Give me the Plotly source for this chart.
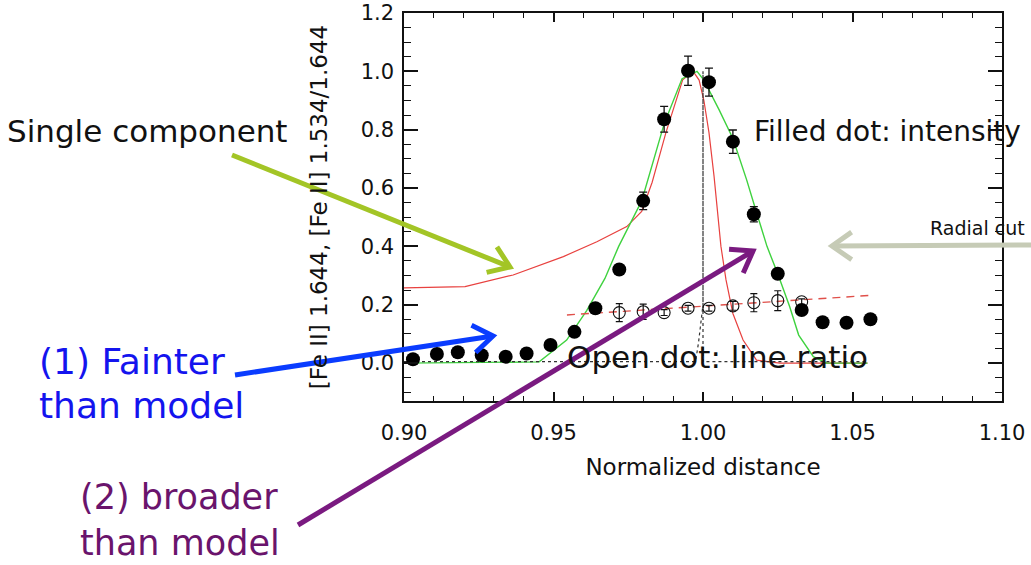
import math
import plotly.graph_objects as go

# ---------------- data ----------------
dist_filled = [0.903, 0.911, 0.918, 0.926, 0.934, 0.941, 0.949, 0.957, 0.964, 0.972, 0.980,
               0.987, 0.995, 1.002, 1.010, 1.017, 1.025, 1.033, 1.040, 1.048, 1.056]
intensity = [0.013, 0.031, 0.037, 0.027, 0.022, 0.033, 0.062, 0.107, 0.188, 0.321, 0.556,
             0.836, 1.002, 0.963, 0.759, 0.510, 0.306, 0.182, 0.140, 0.138, 0.150]
intensity_err = [0.0, 0.0, 0.0, 0.0, 0.0, 0.0, 0.0, 0.0, 0.01, 0.0, 0.03,
                 0.044, 0.05, 0.048, 0.04, 0.026, 0.0, 0.0, 0.0, 0.0, 0.0]

dist_open = [0.972, 0.980, 0.987, 0.995, 1.002, 1.010, 1.017, 1.025, 1.033]
ratio = [0.173, 0.176, 0.173, 0.188, 0.188, 0.196, 0.207, 0.214, 0.210]
ratio_err = [0.031, 0.026, 0.010, 0.010, 0.010, 0.015, 0.031, 0.034, 0.010]

ratio_fit_x = [0.9545, 1.056]
ratio_fit_y = [0.165, 0.232]

single_x = [0.900, 0.9204, 0.9365, 0.9533, 0.9645, 0.9745, 0.9795, 0.983, 0.9876, 0.9932,
            0.9967, 0.9987, 1.0003, 1.002, 1.0037, 1.006, 1.0077, 1.010, 1.0134, 1.0179,
            1.0257, 1.055]
single_y = [0.258, 0.262, 0.302, 0.365, 0.416, 0.468, 0.52, 0.62, 0.79, 0.971,
            1.0, 0.97, 0.90, 0.79, 0.64, 0.40, 0.285, 0.17, 0.079, 0.010,
            0.0, 0.0]

two_x = [0.900, 0.9452, 0.9544, 0.9611, 0.9672, 0.9718, 0.9795, 0.987, 0.993, 0.998,
         1.0003, 1.0054, 1.010, 1.0146, 1.0175, 1.0214, 1.025, 1.029, 1.032, 1.0369,
         1.0414, 1.055]
two_y = [0.0, 0.004, 0.079, 0.18, 0.29, 0.40, 0.556, 0.82, 0.975, 1.0,
         0.97, 0.868, 0.77, 0.628, 0.53, 0.40, 0.306, 0.193, 0.096, 0.022,
         0.0, 0.0]

psf_x = [0.900, 0.9975, 0.9985, 1.0, 1.0, 1.0, 1.055]
psf_y = [0.005, 0.005, 0.07, 0.2, 1.0, 0.005, 0.005]

x_ticks = [0.90, 0.95, 1.00, 1.05, 1.10]
y_ticks = [0.0, 0.2, 0.4, 0.6, 0.8, 1.0, 1.2]

# ---------------- layout geometry ----------------
W, H = 1031, 565
ML, MR, MT, MB = 404, 29, 13, 164
PW, PH = W - ML - MR, H - MT - MB


def px(xp):
    return (xp - ML) / PW


def py(yp):
    return (H - MB - yp) / PH


fig = go.Figure()

fig.add_trace(go.Scatter(x=single_x, y=single_y, mode="lines",
                         line=dict(color="#e8413f", width=1.2), showlegend=False))
fig.add_trace(go.Scatter(x=two_x, y=two_y, mode="lines",
                         line=dict(color="#3fd23f", width=1.4), showlegend=False))
fig.add_trace(go.Scatter(x=psf_x, y=psf_y, mode="lines",
                         line=dict(color="#333333", width=1.2, dash="dot"), showlegend=False))
fig.add_trace(go.Scatter(x=ratio_fit_x, y=ratio_fit_y, mode="lines",
                         line=dict(color="#e0504a", width=1.4, dash="8px,6px"), showlegend=False))
fig.add_trace(go.Scatter(x=dist_open, y=ratio, mode="markers",
                         marker=dict(symbol="circle-open", size=12, color="#111111",
                                     line=dict(width=1.1)),
                         error_y=dict(type="data", array=ratio_err, color="#111111",
                                      thickness=1.2, width=3.5),
                         showlegend=False))
fig.add_trace(go.Scatter(x=dist_filled, y=intensity, mode="markers",
                         marker=dict(symbol="circle", size=14, color="#000000"),
                         error_y=dict(type="data", array=intensity_err, color="#111111",
                                      thickness=1.3, width=4),
                         showlegend=False))

axis_common = dict(showline=True, linecolor="#111111", linewidth=1.5, mirror="allticks",
                   ticks="inside", tickcolor="#111111", tickwidth=1.5,
                   showgrid=False, zeroline=False, automargin=False,
                   tickfont=dict(family="DejaVu Sans", size=21, color="#111111"))

fig.update_xaxes(range=[0.90, 1.10], tickvals=x_ticks, tickformat=".2f", ticklen=9,
                 minor=dict(ticks="inside", dtick=0.01, ticklen=5, tickcolor="#111111",
                            tickwidth=1.3),
                 title=dict(text="Normalized distance",
                            font=dict(family="DejaVu Sans", size=23, color="#111111"),
                            standoff=15),
                 ticklabelstandoff=12,
                 **axis_common)
fig.update_yaxes(range=[-0.13, 1.2], tickvals=y_ticks, tickformat=".1f", ticklen=14,
                 minor=dict(ticks="inside", dtick=0.05, ticklen=7, tickcolor="#111111",
                            tickwidth=1.3),
                 title=dict(text="[Fe II] 1.644, [Fe II] 1.534/1.644",
                            font=dict(family="DejaVu Sans", size=23, color="#111111"),
                            standoff=27),
                 ticklabelstandoff=4,
                 **axis_common)

# ---------------- annotation texts ----------------
texts = [
    ("Single component", 6, 131, 31, "#111111", "middle"),
    ("Filled dot: intensity", 753, 131, 28, "#111111", "middle"),
    ("Radial cut", 929, 228, 19, "#111111", "middle"),
    ("Open dot: line ratio", 566, 357, 31, "#111111", "middle"),
    ("(1) Fainter", 38, 361, 36, "#1414ee", "middle"),
    ("than model", 38, 405, 36, "#1414ee", "middle"),
    ("(2) broader<br>than model", 79, 564, 35, "#6a146c", "bottom"),
]
for t, x0, y0, s, c, ya in texts:
    fig.add_annotation(text=t, x=px(x0), y=py(y0), xref="paper", yref="paper",
                       xanchor="left", yanchor=ya, align="left", showarrow=False,
                       borderpad=0,
                       font=dict(family="DejaVu Sans", size=s, color=c))

# ---------------- arrows (line + open chevron head) ----------------
arrows = [
    ((232, 155), (510, 267), "#a3c526"),
    ((235, 375), (493, 336), "#0a3cff"),
    ((298, 525), (753, 251), "#7a1a80"),
    ((1040, 245), (832, 246), "#c6cbb6"),
]
shapes = []
for (x0, y0), (x1, y1), col in arrows:
    shapes.append(dict(type="line", xref="paper", yref="paper",
                       x0=px(x0), y0=py(y0), x1=px(x1), y1=py(y1),
                       line=dict(color=col, width=5), layer="above"))
    ang = math.atan2(y1 - y0, x1 - x0)
    L = 24
    pts = []
    for da in (math.radians(35), -math.radians(35)):
        a = ang + math.pi + da
        pts.append((x1 + L * math.cos(a), y1 + L * math.sin(a)))
    path = "M {:.5f},{:.5f} L {:.5f},{:.5f} L {:.5f},{:.5f}".format(
        px(pts[0][0]), py(pts[0][1]), px(x1), py(y1), px(pts[1][0]), py(pts[1][1]))
    shapes.append(dict(type="path", xref="paper", yref="paper", path=path,
                       line=dict(color=col, width=5), layer="above"))

fig.update_layout(width=W, height=H, margin=dict(l=ML, r=MR, t=MT, b=MB, autoexpand=False),
                  paper_bgcolor="white", plot_bgcolor="white", shapes=shapes,
                  showlegend=False)

fig.write_html("out.html")
